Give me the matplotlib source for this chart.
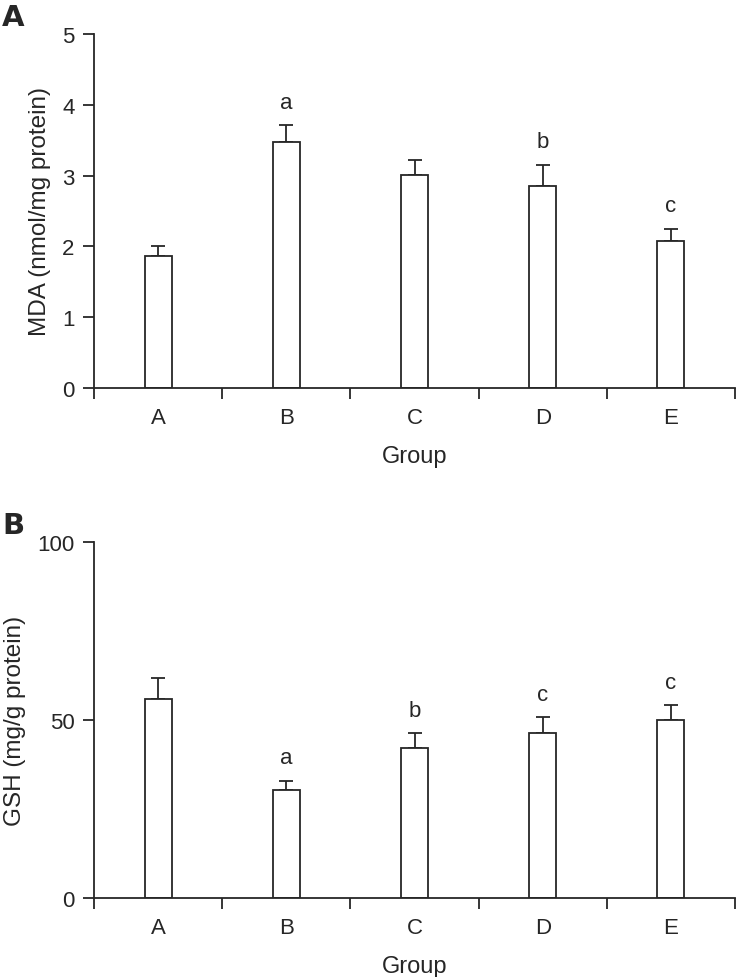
"""
MDA and GSH levels per group, two stacked bar panels with error bars.
"""

import numpy as np
from matplotlib import pyplot

groups = ['A', 'B', 'C', 'D', 'E']

# Panel A: MDA (nmol/mg protein)
mda_mean = [1.86, 3.47, 3.01, 2.85, 2.08]
mda_err = [0.14, 0.24, 0.21, 0.30, 0.17]
mda_marks = ['', 'a', '', 'b', 'c']

# Panel B: GSH (mg/g protein)
gsh_mean = [55.9, 30.3, 42.1, 46.3, 50.0]
gsh_err = [5.9, 2.6, 4.2, 4.5, 4.2]
gsh_marks = ['', 'a', 'b', 'c', 'c']

pyplot.rcParams['font.family'] = ['Liberation Sans', 'DejaVu Sans']
pyplot.rcParams['font.size'] = 16
ink = '#262626'

fig = pyplot.figure(figsize=(7.36, 9.78), dpi=100)
W, H = 736, 978


def panel(rect, means, errs, marks, ymax, yticks, ylabel, tag):
    ax = fig.add_axes(rect)
    x = np.arange(len(groups))
    ax.bar(x, means, width=0.21, color='white', edgecolor=ink, linewidth=1.3,
           zorder=2)
    ax.errorbar(x, means, yerr=[np.zeros(len(errs)), errs], fmt='none',
                ecolor=ink, elinewidth=1.3, capsize=4.8, capthick=1.3,
                zorder=1)
    for xi, m, e, s in zip(x, means, errs, marks):
        if s:
            ax.annotate(s, (xi, m + e), xytext=(0, 9), textcoords='offset points',
                        ha='center', va='bottom', fontsize=16, color=ink)
    ax.set_xlim(-0.5, len(groups) - 0.5)
    ax.set_ylim(0, ymax)
    ax.set_yticks(yticks)
    ax.set_xticks(np.arange(len(groups) + 1) - 0.5)
    ax.set_xticklabels([])
    ax.set_xticks(x, minor=True)
    ax.set_xticklabels(groups, minor=True)
    ax.tick_params(axis='x', which='major', direction='out', length=8,
                   width=1.3, color=ink)
    ax.tick_params(axis='x', which='minor', length=0, pad=14, labelsize=16,
                   labelcolor=ink)
    ax.tick_params(axis='y', direction='out', length=8, width=1.3, color=ink,
                   pad=6, labelsize=16, labelcolor=ink)
    for side in ['top', 'right']:
        ax.spines[side].set_visible(False)
    for side in ['left', 'bottom']:
        ax.spines[side].set_linewidth(1.3)
        ax.spines[side].set_color(ink)
    ax.set_xlabel('Group', color=ink, fontsize=17, labelpad=12)
    ax.set_ylabel(ylabel, color=ink, fontsize=17.5, labelpad=8)
    fig.text(2 / W, rect[1] + rect[3] + 3 / H, tag, fontsize=21,
             fontweight='bold',
             family=['Liberation Sans Narrow', 'DejaVu Sans Condensed',
                     'DejaVu Sans'],
             color=ink, ha='left', va='bottom')
    return ax


left, right = 94 / W, 735 / W
panel([left, 1 - 389 / H, right - left, (389 - 35) / H],
      mda_mean, mda_err, mda_marks, 5, [0, 1, 2, 3, 4, 5],
      'MDA (nmol/mg protein)', 'A')
panel([left, 1 - 899 / H, right - left, (899 - 543) / H],
      gsh_mean, gsh_err, gsh_marks, 100, [0, 50, 100],
      'GSH (mg/g protein)', 'B')

fig.savefig('out.png', dpi=100)
